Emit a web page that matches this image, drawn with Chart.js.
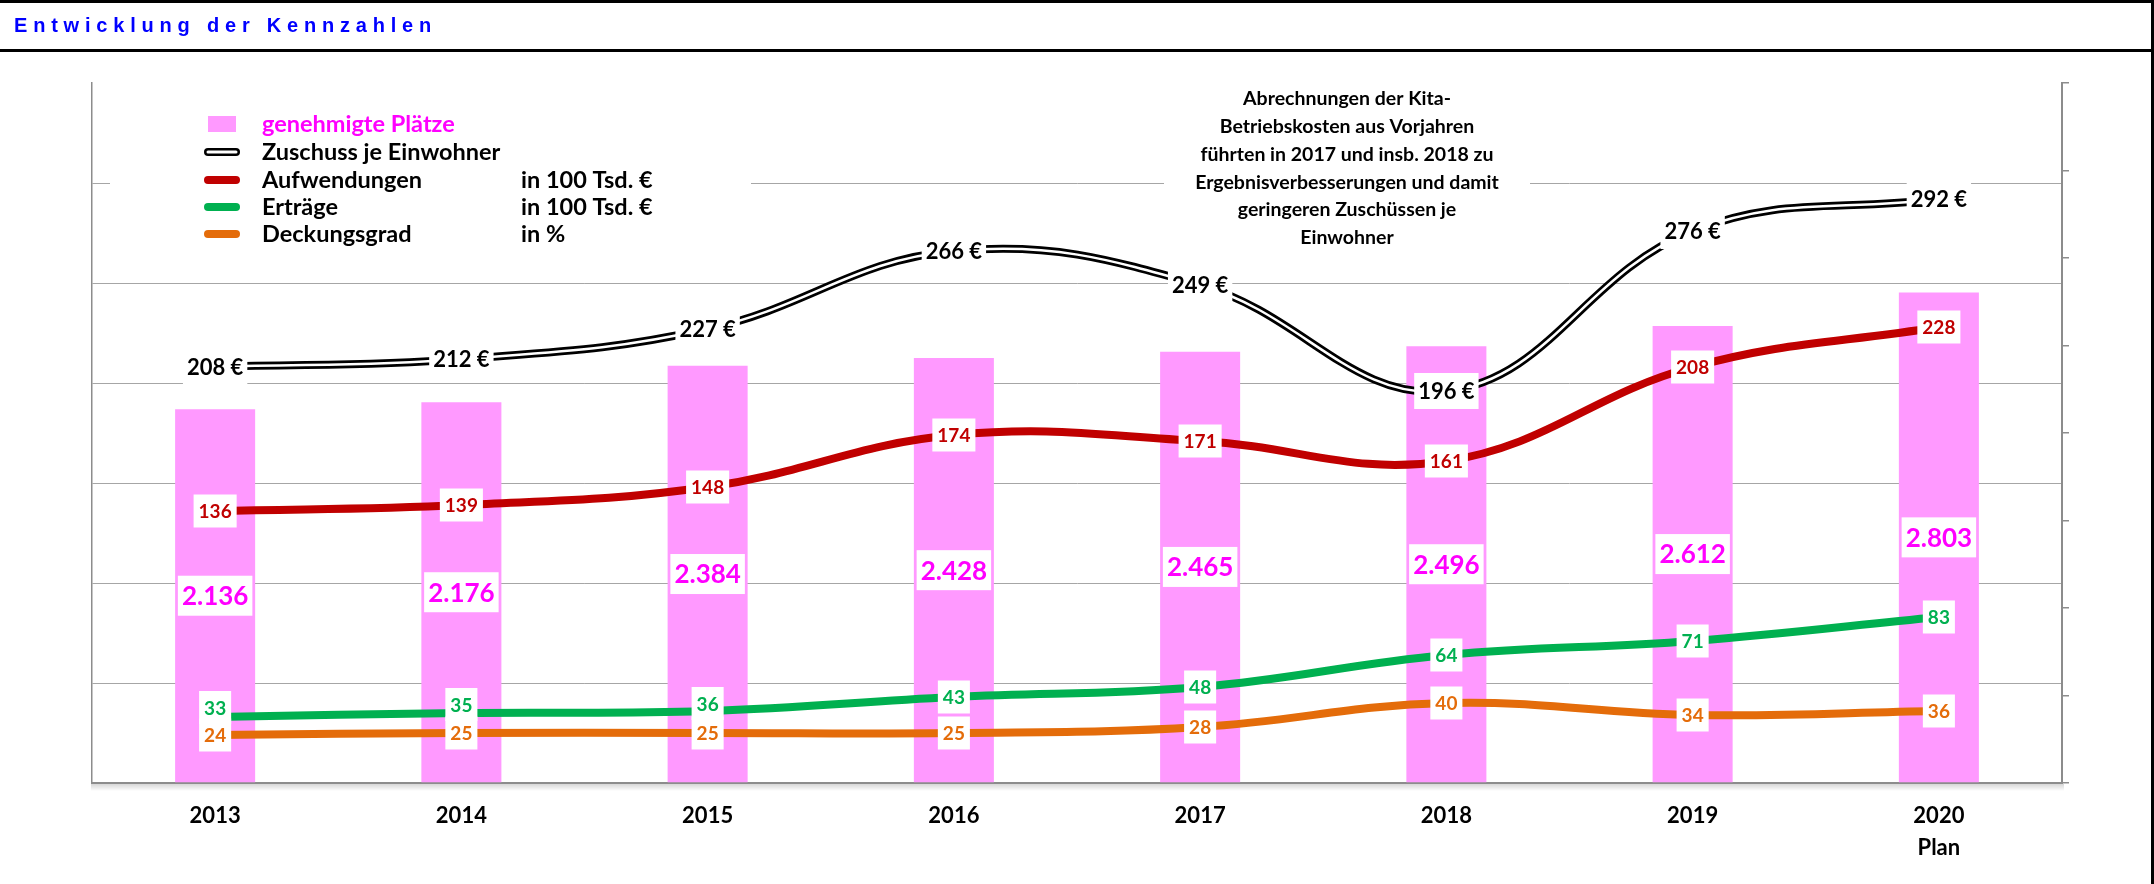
<!DOCTYPE html>
<html><head><meta charset="utf-8">
<script src="https://cdn.jsdelivr.net/npm/chart.js@4.4.1/dist/chart.umd.min.js"></script>
<style>
html,body{margin:0;padding:0;background:#fff;width:2154px;height:884px;overflow:hidden}
#wrap{position:relative;width:2154px;height:884px}
#c{position:absolute;left:0;top:0}
#title{position:absolute;left:14px;top:2px;height:46px;font:bold 20px "Liberation Sans",Arial,sans-serif;line-height:46px;color:#0000FF;letter-spacing:5.8px;white-space:nowrap}
.bar{position:absolute;background:#000}
</style></head>
<body><div id="wrap">
<canvas id="c" width="2154" height="884"></canvas>
<div id="title">Entwicklung der Kennzahlen</div>
<div class="bar" style="left:0;top:0;width:2154px;height:3px"></div>
<div class="bar" style="left:0;top:49px;width:2154px;height:3px"></div>
<div class="bar" style="left:2151px;top:0;width:3px;height:884px"></div>
</div>
<script>
// ---- data ----
const years = ['2013','2014','2015','2016','2017','2018','2019','2020'];
const tickLabels = [['2013'],['2014'],['2015'],['2016'],['2017'],['2018'],['2019'],['2020','Plan']];
const plaetze = [2136, 2176, 2384, 2428, 2465, 2496, 2612, 2803];
const zuschuss = [208, 212, 227, 266, 249, 196, 276, 292];
const aufwendungen = [136, 139, 148, 174, 171, 161, 208, 228];
const ertraege = [33, 35, 36, 43, 48, 64, 71, 83];
const deckungsgrad = [24, 25, 25, 25, 28, 40, 34, 36];
const legendNames = ['genehmigte Plätze','Zuschuss je Einwohner','Aufwendungen','Erträge','Deckungsgrad'];
const legendUnits = ['','','in 100 Tsd. €','in 100 Tsd. €','in %'];
const noteLines = ['Abrechnungen der Kita-','Betriebskosten aus Vorjahren','führten in 2017 und insb. 2018 zu','Ergebnisverbesserungen und damit','geringeren Zuschüssen je','Einwohner'];

const FONT = 'Lato, "Open Sans", sans-serif';
const PINK = '#FF99FF', RED = '#C00000', GREEN = '#00B050', ORANGE = '#E46C0A', MAGENTA = '#FF00FF';
const thousands = v => String(v).replace(/\B(?=(\d{3})+(?!\d))/g, '.');

const valueLabels = {
  id: 'valueLabels',
  afterDatasetsDraw(chart) {
    const ctx = chart.ctx;
    ctx.save();
    chart.data.datasets.forEach((ds, di) => {
      const lab = ds.vlabel;
      if (!lab) return;
      const meta = chart.getDatasetMeta(di);
      const other = lab.avoid != null ? chart.getDatasetMeta(lab.avoid) : null;
      meta.data.forEach((el, i) => {
        const text = lab.fmt(ds.data[i]);
        const x = el.x;
        let y = meta.type === 'bar' ? (el.y + el.base) / 2 : el.y;
        if (other) {
          const oy = other.data[i].y;
          const overlap = lab.boxH - Math.abs(oy - y);
          if (overlap > 0) y -= overlap / 2 + 2;
        }
        ctx.font = 'bold ' + lab.size + 'px ' + FONT;
        const w = ctx.measureText(text).width + lab.padX * 2;
        ctx.fillStyle = '#fff';
        ctx.fillRect(x - w / 2, y - lab.boxH / 2, w, lab.boxH);
        ctx.fillStyle = lab.color;
        ctx.textAlign = 'center';
        ctx.textBaseline = 'middle';
        ctx.fillText(text, x, y + 1);
      });
    });
    ctx.restore();
  }
};

const decor = {
  id: 'decor',
  afterDraw(chart) {
    const ctx = chart.ctx;
    const a = chart.chartArea;
    ctx.save();
    // shadow under x axis
    const g = ctx.createLinearGradient(0, a.bottom + 1, 0, a.bottom + 8);
    g.addColorStop(0, 'rgba(0,0,0,0.16)');
    g.addColorStop(1, 'rgba(0,0,0,0)');
    ctx.fillStyle = g;
    ctx.fillRect(a.left - 1, a.bottom + 1, a.right - a.left + 3, 7);
    // legend
    ctx.fillStyle = '#fff';
    ctx.fillRect(110, 102, 641, 148);
    const rows = [124, 152, 180, 207, 234];
    const colors = [PINK, '#000', RED, GREEN, ORANGE];
    rows.forEach((ry, i) => {
      if (i === 0) {
        ctx.fillStyle = PINK;
        ctx.fillRect(208, ry - 8, 28, 16);
      } else {
        ctx.lineCap = 'round';
        ctx.strokeStyle = colors[i];
        ctx.lineWidth = 8;
        ctx.beginPath(); ctx.moveTo(208, ry); ctx.lineTo(236, ry); ctx.stroke();
        if (i === 1) {
          ctx.strokeStyle = '#fff';
          ctx.lineWidth = 3;
          ctx.beginPath(); ctx.moveTo(208, ry); ctx.lineTo(236, ry); ctx.stroke();
        }
      }
      ctx.font = 'bold 23.5px ' + FONT;
      ctx.textAlign = 'left';
      ctx.textBaseline = 'middle';
      ctx.fillStyle = i === 0 ? MAGENTA : '#000';
      ctx.fillText(legendNames[i], 262, ry);
      if (legendUnits[i]) {
        ctx.fillStyle = '#000';
        ctx.fillText(legendUnits[i], 521, ry);
      }
    });
    // annotation
    ctx.fillStyle = '#fff';
    ctx.fillRect(1164, 84, 366, 168);
    ctx.fillStyle = '#000';
    ctx.font = 'bold 19.5px ' + FONT;
    ctx.textAlign = 'center';
    noteLines.forEach((t, i) => ctx.fillText(t, 1347, 99 + i * 27.8));
    ctx.restore();
  }
};

const lineBase = { type: 'line', yAxisID: 'y', tension: 0.4, pointRadius: 0, borderWidth: 8, fill: false, borderCapStyle: 'round', borderJoinStyle: 'round' };

new Chart(document.getElementById('c'), {
  data: {
    labels: years,
    datasets: [
      { type: 'bar', label: legendNames[0], data: plaetze, yAxisID: 'y1', backgroundColor: PINK,
        barPercentage: 0.325, categoryPercentage: 1, order: 10,
        vlabel: { fmt: thousands, size: 26, padX: 4, boxH: 40, color: MAGENTA } },
      Object.assign({}, lineBase, { label: legendNames[1] + ' (Rand)', data: zuschuss, borderColor: '#000', borderWidth: 8, order: 6 }),
      Object.assign({}, lineBase, { label: legendNames[1], data: zuschuss, borderColor: '#fff', borderWidth: 2.5, order: 5,
        vlabel: { fmt: v => v + ' €', size: 22, padX: 4, boxH: 36, color: '#000' } }),
      Object.assign({}, lineBase, { label: legendNames[2], data: aufwendungen, borderColor: RED, order: 4,
        vlabel: { fmt: v => String(v), size: 19, padX: 5, boxH: 33, color: RED } }),
      Object.assign({}, lineBase, { label: legendNames[4], data: deckungsgrad, borderColor: ORANGE, order: 2,
        vlabel: { fmt: v => String(v), size: 19, padX: 5, boxH: 33, color: ORANGE } }),
      Object.assign({}, lineBase, { label: legendNames[3], data: ertraege, borderColor: GREEN, order: 3,
        vlabel: { fmt: v => String(v), size: 19, padX: 5, boxH: 33, color: GREEN, avoid: 4 } })
    ]
  },
  options: {
    responsive: false,
    animation: false,
    layout: { padding: { left: 92, right: 85, top: 83, bottom: 0 } },
    plugins: { legend: { display: false }, tooltip: { enabled: false }, title: { display: false } },
    scales: {
      x: {
        offset: true,
        grid: { display: false, drawTicks: false },
        border: { display: true, color: '#8C8C8C', width: 2 },
        ticks: { autoSkip: false, maxRotation: 0, padding: 17, color: '#000',
          font: { family: FONT, weight: 'bold', size: 22, lineHeight: 1.45 },
          callback: (v, i) => tickLabels[i] },
        afterFit: s => { s.height = 101; }
      },
      y: {
        position: 'left', min: 0, max: 350,
        ticks: { display: false, stepSize: 50 },
        grid: { drawTicks: false, lineWidth: 1, color: c => (c.tick && c.tick.value === 350 ? 'rgba(0,0,0,0)' : '#A6A6A6') },
        border: { display: true, color: '#8C8C8C', width: 1.5 },
        afterFit: s => { s.width = 0; }
      },
      y1: {
        position: 'right', min: 0, max: 4000,
        ticks: { display: false, stepSize: 500 },
        grid: { drawOnChartArea: false, drawTicks: true, tickLength: 7, color: '#8C8C8C', lineWidth: 1.5 },
        border: { display: true, color: '#8C8C8C', width: 2 },
        afterFit: s => { s.width = 7; }
      }
    }
  },
  plugins: [valueLabels, decor]
});
</script>
</body></html>
